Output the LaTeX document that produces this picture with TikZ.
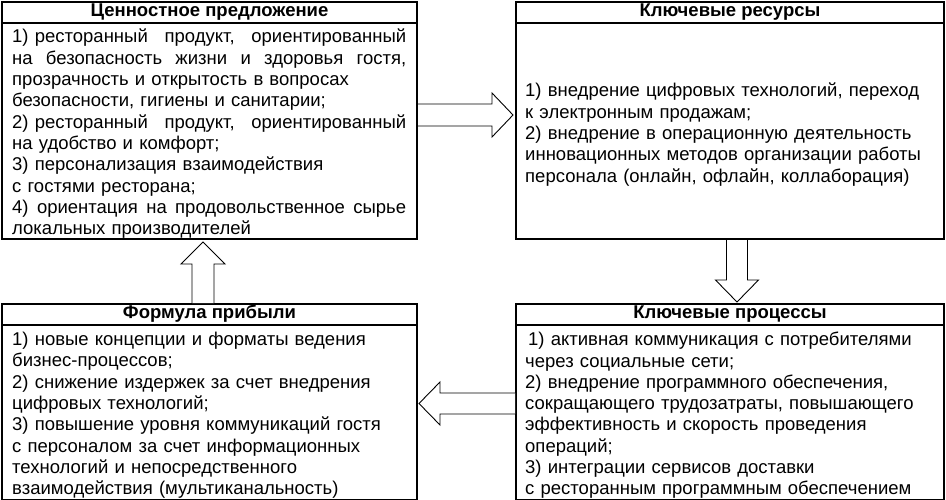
\documentclass[tikz,border=0pt]{standalone}
\usepackage{fontspec}
\setmainfont{Liberation Sans}
\usetikzlibrary{calc}
\tikzset{
  box/.style={draw, line width=2pt, anchor=north west, inner sep=0pt},
  headtext/.style={font=\bfseries\fontsize{18.5}{21.3}\selectfont, inner sep=0pt},
  bodytext/.style={anchor=north west, inner sep=0pt, align=left, text width=#1,
    font=\fontsize{18.5}{21.3}\selectfont},
  sepline/.style={line width=1.2pt},
  barrow/.style={draw, line width=0.9pt, fill=white, line join=miter},
}
\newcommand{\jline}[1]{\leavevmode\hbox to 394pt{#1}}
\begin{document}
\begin{tikzpicture}[x=1pt,y=-1pt]
\useasboundingbox (0,0) rectangle (946,500);
% boxes
\node[box, minimum width=415pt, minimum height=237pt] (vp) at (1,1) {};
\node[box, minimum width=428pt, minimum height=237pt] (kr) at (515,1) {};
\node[box, minimum width=415pt, minimum height=196pt] (fp) at (1,303) {};
\node[box, minimum width=428pt, minimum height=196pt] (kp) at (515,303) {};
% header lines
\draw[sepline] ($(vp.north west)+(0,22)$) -- ($(vp.north east)+(0,22)$);
\draw[sepline] ($(kr.north west)+(0,22)$) -- ($(kr.north east)+(0,22)$);
\draw[sepline] ($(fp.north west)+(0,22)$) -- ($(fp.north east)+(0,22)$);
\draw[sepline] ($(kp.north west)+(0,22)$) -- ($(kp.north east)+(0,22)$);
% headers
\node[headtext] (vph) at ($(vp.north)+(0,11)$) {Ценностное предложение};
\node[headtext] (krh) at ($(kr.north)+(0,11)$) {Ключевые ресурсы};
\node[headtext] (fph) at ($(fp.north)+(0,11)$) {Формула прибыли};
\node[headtext] (kph) at ($(kp.north)+(0,11)$) {Ключевые процессы};
% bodies
\node[bodytext=394pt] (vpb) at ($(vp.north west)+(11,28)$) {%
\jline{1) ресторанный\hfill продукт,\hfill ориентированный}\\
\jline{на\hfill безопасность\hfill жизни\hfill и\hfill здоровья\hfill гостя,}\\
прозрачность и открытость в вопросах\\
безопасности, гигиены и санитарии;\\
\jline{2) ресторанный\hfill продукт,\hfill ориентированный}\\
на удобство и комфорт;\\
3) персонализация взаимодействия\\
с гостями ресторана;\\
\jline{4)\hfill ориентация\hfill на\hfill продовольственное\hfill сырье}\\
локальных производителей};
\node[bodytext=410pt] (krb) at ($(kr.north west)+(10,82)$) {%
1) внедрение цифровых технологий, переход\\
к электронным продажам;\\
2) внедрение в операционную деятельность\\
инновационных методов организации работы\\
персонала (онлайн, офлайн, коллаборация)};
\node[bodytext=414pt] (fpb) at ($(fp.north west)+(11,29)$) {%
1) новые концепции и форматы ведения\\
бизнес-процессов;\\
2) снижение издержек за счет внедрения\\
цифровых технологий;\\
3) повышение уровня коммуникаций гостя\\
с персоналом за счет информационных\\
технологий и непосредственного\\
взаимодействия (мультиканальность)};
\node[bodytext=414pt] (kpb) at ($(kp.north west)+(10,29)$) {%
\hspace*{3pt}1) активная коммуникация с потребителями\\
через социальные сети;\\
2) внедрение программного обеспечения,\\
сокращающего трудозатраты, повышающего\\
эффективность и скорость проведения\\
операций;\\
3) интеграции сервисов доставки\\
с ресторанным программным обеспечением};
% block arrows
% right: vp -> kr
\coordinate (r0) at ($(vp.north east)+(0,114)$);
\coordinate (r1) at ($(kr.north west)+(-2,114)$);
\draw[barrow] ($(r0)+(0,-11)$) -- ($(r1)+(-21,-11)$) -- ($(r1)+(-21,-22)$) -- (r1)
  -- ($(r1)+(-21,22)$) -- ($(r1)+(-21,11)$) -- ($(r0)+(0,11)$);
% down: kr -> kp
\coordinate (d0) at ($(kr.south west)+(222,0)$);
\coordinate (d1) at ($(kp.north west)+(222,-1)$);
\draw[barrow] ($(d0)+(-10.5,0)$) -- ($(d1)+(-10.5,-22)$) -- ($(d1)+(-21.5,-22)$) -- (d1)
  -- ($(d1)+(21.5,-22)$) -- ($(d1)+(10.5,-22)$) -- ($(d0)+(10.5,0)$);
% left: kp -> fp
\coordinate (l0) at ($(kp.north west)+(0,100.5)$);
\coordinate (l1) at ($(fp.north east)+(1,100.5)$);
\draw[barrow] ($(l0)+(0,-10.5)$) -- ($(l1)+(21,-10.5)$) -- ($(l1)+(21,-21.5)$) -- (l1)
  -- ($(l1)+(21,21.5)$) -- ($(l1)+(21,10.5)$) -- ($(l0)+(0,10.5)$);
% up: fp -> vp
\coordinate (u0) at ($(fp.north west)+(202,0)$);
\coordinate (u1) at ($(vp.south west)+(202,2)$);
\draw[barrow] ($(u0)+(-11,0)$) -- ($(u1)+(-11,22)$) -- ($(u1)+(-22,22)$) -- (u1)
  -- ($(u1)+(22,22)$) -- ($(u1)+(11,22)$) -- ($(u0)+(11,0)$);
\end{tikzpicture}
\end{document}
